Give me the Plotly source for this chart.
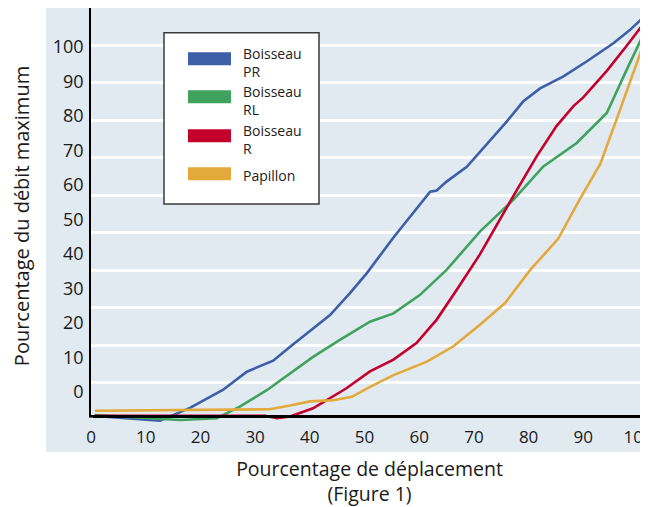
import plotly.graph_objects as go

# ---------------- data ----------------
x_ticks = [0, 10, 20, 30, 40, 50, 60, 70, 80, 90, 100]
y_ticks = [0, 10, 20, 30, 40, 50, 60, 70, 80, 90, 100]
grid_vals = [10, 20, 30, 40, 50, 60, 70, 80, 90, 100]

series_names = ["Boisseau<br>PR", "Boisseau<br>RL", "Boisseau<br>R", "Papillon"]
series_colors = ["#3c5fa8", "#3fa35e", "#c3002b", "#e3a93b"]

pr_x = [0.7, 12.6, 18.1, 24.1, 28.5, 33.3, 36.4, 43.7, 47.3, 50.4, 55.3, 58.9, 62.0, 63.2,
        65.0, 68.7, 72.3, 76.0, 79.0, 82.1, 86.3, 90.6, 95.5, 98.5, 101.8]
pr_y = [-7.0, -8.4, -4.7, 0.5, 5.8, 9.0, 13.0, 22.2, 28.5, 34.3, 44.7, 51.7, 58.0, 58.3,
        60.9, 65.2, 71.5, 78.3, 84.1, 87.9, 91.3, 95.7, 101.0, 104.8, 109.7]

rl_x = [0.7, 16.3, 23.0, 27.2, 32.2, 36.4, 40.6, 45.5, 51.0, 55.3, 60.1, 65.0, 71.1, 77.2,
        82.7, 88.8, 94.3, 97.9, 101.8]
rl_y = [-6.8, -8.2, -7.7, -4.3, 0.5, 5.3, 10.1, 15.0, 20.3, 22.7, 28.0, 35.3, 46.4, 55.6,
        65.3, 72.1, 80.8, 93.2, 106.3]

r_x = [0.7, 31.8, 34.0, 36.4, 40.6, 46.7, 51.0, 55.3, 59.5, 63.2, 66.9, 71.1, 77.2, 81.5,
       85.1, 88.2, 90.0, 94.3, 97.9, 101.8]
r_y = [-7.0, -7.0, -7.7, -7.2, -4.8, 1.0, 5.9, 9.3, 14.1, 20.9, 29.6, 39.8, 56.7, 68.3,
       77.0, 82.8, 85.3, 93.0, 100.2, 108.3]

pap_x = [0.7, 32.7, 36.4, 40.0, 44.3, 47.7, 51.0, 55.3, 61.4, 66.2, 71.1, 75.7, 80.3, 85.4,
         89.4, 93.1, 96.1, 99.1, 101.8]
pap_y = [-5.5, -5.1, -4.0, -2.8, -2.5, -1.5, 1.4, 4.8, 8.7, 13.1, 19.4, 25.7, 35.3, 44.3,
         55.9, 66.0, 79.0, 92.5, 104.2]

series_x = [pr_x, rl_x, r_x, pap_x]
series_y = [pr_y, rl_y, r_y, pap_y]

# ---------------- layout geometry ----------------
# The page body has an 8px margin, so the figure is drawn 8px right/down.
OFF = 8
W, H = 648 - OFF, 507 - OFF
AXIS_PX = 416             # screen row of the x axis line
L, R, T = 91 - OFF, 0, 8 - OFF
B = H - (424 - OFF)       # plot area reaches a little below the axis line
PW, PH = W - L - R, H - T - B
FONT = "Open Sans"
TXT = "#1a1a1a"


def px_x(p):
    """screen x pixel -> paper fraction"""
    return (p - OFF - L) / PW


def px_y(p):
    """screen y pixel -> paper fraction"""
    return (H - B - (p - OFF)) / PH


fig = go.Figure()
for name, col, xs, ys in zip(series_names, series_colors, series_x, series_y):
    fig.add_trace(go.Scatter(x=xs, y=ys, mode="lines", name=name.replace("<br>", " "),
                             line=dict(color=col, width=2.6), showlegend=False,
                             hoverinfo="skip"))
# invisible trace on the grid axis so that it is drawn
fig.add_trace(go.Scatter(x=[None], y=[None], yaxis="y2", showlegend=False, hoverinfo="skip"))

shapes = [
    # light blue panel behind the chart
    dict(type="rect", xref="paper", yref="paper", x0=px_x(46), x1=1.0, y0=px_y(452), y1=px_y(7),
         fillcolor="#e1e9f1", line=dict(width=0), layer="below"),
    # legend box
    dict(type="rect", xref="paper", yref="paper", x0=px_x(164), x1=px_x(319), y0=px_y(204),
         y1=px_y(32.7), fillcolor="white", line=dict(color="#3a3a3a", width=1.5), layer="above"),
    # hide the part of the y axis line below the x axis
    dict(type="rect", xref="paper", yref="paper", x0=px_x(89), x1=px_x(93), y0=-0.01,
         y1=px_y(AXIS_PX + 1.6), fillcolor="#e1e9f1", line=dict(width=0), layer="above"),
]
annotations = []
swatch_centers = [58.7, 96.7, 135.8, 173.8]
text_centers = [63.0, 100.8, 139.7, 175.0]
for name, col, sc, tc in zip(series_names, series_colors, swatch_centers, text_centers):
    shapes.append(dict(type="rect", xref="paper", yref="paper", x0=px_x(188), x1=px_x(231),
                       y0=px_y(sc + 6.5), y1=px_y(sc - 6.5), fillcolor=col,
                       line=dict(width=0), layer="above"))
    annotations.append(dict(text=name, xref="paper", yref="paper", x=px_x(241), y=px_y(tc),
                            xanchor="left", yanchor="middle", align="left", showarrow=False,
                            font=dict(family=FONT, size=14, color="#222222")))

fig.update_layout(
    width=W, height=H,
    margin=dict(l=L, r=R, t=T, b=B, pad=0, autoexpand=False),
    paper_bgcolor="white",
    plot_bgcolor="rgba(0,0,0,0)",
    font=dict(family=FONT, color=TXT),
    showlegend=False,
    shapes=shapes,
    annotations=annotations,
    xaxis=dict(range=[0, PW / 5.47], tickvals=x_ticks, ticktext=[str(v) for v in x_ticks],
               anchor="free", position=px_y(AXIS_PX), automargin=False,
               ticklabeloverflow="allow",
               showgrid=False, zeroline=False, showline=True, linecolor="black", linewidth=3,
               ticks="", ticklabelstandoff=5, tickfont=dict(size=17, family=FONT, color=TXT),
               title=dict(text="Pourcentage de déplacement<br>(Figure 1)", standoff=19,
                          font=dict(size=19.5, family=FONT, color=TXT))),
    yaxis=dict(range=[(391.7 - (H - B + OFF)) / 3.45, (391.7 - (T + OFF)) / 3.45],
               tickvals=y_ticks, ticktext=[str(v) for v in y_ticks], showgrid=False,
               zeroline=False, automargin=False,
               showline=True, linecolor="black", linewidth=1.5, ticks="", ticklabelstandoff=2,
               tickfont=dict(size=18, family=FONT, color=TXT),
               title=dict(text="Pourcentage du débit maximum", standoff=18,
                          font=dict(size=20, family=FONT, color=TXT))),
    yaxis2=dict(overlaying="y", range=[(420 - (H - B + OFF)) / 3.75, (420 - (T + OFF)) / 3.75],
                tickvals=grid_vals, showticklabels=False, showgrid=True, gridcolor="white",
                gridwidth=3, zeroline=False, showline=False, ticks="", automargin=False),
)

fig.write_html("out.html")
